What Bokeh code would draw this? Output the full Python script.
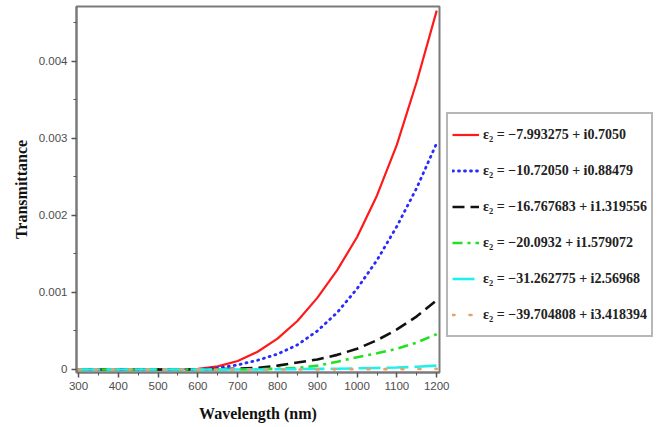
from bokeh.plotting import figure
from bokeh.models import Legend, LegendItem, FixedTicker, CustomJSTickFormatter, Range1d
from bokeh.embed import file_html
from bokeh.resources import INLINE

# ---- data ----
wavelength = [300, 350, 400, 450, 500, 550, 600, 650, 700, 750,
              800, 850, 900, 950, 1000, 1050, 1100, 1150, 1200]

t_eps_7_99 = [0, 0, 0, 0, 0, 0, 0.00001, 0.00004, 0.00011, 0.00023,
              0.00040, 0.00063, 0.00093, 0.00129, 0.00172, 0.00226, 0.00292, 0.00374, 0.00466]
t_eps_10_72 = [0, 0, 0, 0, 0, 0, 0, 0.00002, 0.00006, 0.00012,
               0.00020, 0.00032, 0.00050, 0.00074, 0.00105, 0.00142, 0.00186, 0.00236, 0.00294]
t_eps_16_77 = [0, 0, 0, 0, 0, 0, 0, 0.000005, 0.00001, 0.00002,
               0.00005, 0.00009, 0.00013, 0.00019, 0.00027, 0.00038, 0.00052, 0.00069, 0.00090]
t_eps_20_09 = [0, 0, 0, 0, 0, 0, 0, 0, 0, 0.000003,
               0.00001, 0.00002, 0.00005, 0.00010, 0.00016, 0.00021, 0.00027, 0.00035, 0.00046]
t_eps_31_26 = [0, 0, 0, 0, 0, 0, 0, 0, 0, 0,
               0.000003, 0.000005, 0.000008, 0.00001, 0.000015, 0.00002, 0.000025, 0.000035, 0.00005]
t_eps_39_70 = [0, 0, 0, 0, 0, 0, 0, 0, 0, 0,
               0, 0, 0.000001, 0.000002, 0.000003, 0.000004, 0.000005, 0.000006, 0.000008]

series_labels = [
    "ε₂ = −7.993275 + i0.7050",
    "ε₂ = −10.72050 + i0.88479",
    "ε₂ = −16.767683 + i1.319556",
    "ε₂ = −20.0932 + i1.579072",
    "ε₂ = −31.262775 + i2.56968",
    "ε₂ = −39.704808 + i3.418394",
]

x_ticks = [300, 400, 500, 600, 700, 800, 900, 1000, 1100, 1200]
x_minor = [350, 450, 550, 650, 750, 850, 950, 1050, 1150]
y_ticks = [0, 0.001, 0.002, 0.003, 0.004]
y_minor = [0.0005, 0.0015, 0.0025, 0.0035, 0.0045]

# ---- figure ----
p = figure(frame_width=363, frame_height=366, output_backend="svg", toolbar_location=None,
           x_range=Range1d(295, 1207), y_range=Range1d(-0.000039, 0.004714),
           min_border_left=76, min_border_right=0, min_border_top=6, min_border_bottom=54)

p.xgrid.visible = False
p.ygrid.visible = False
p.outline_line_color = "#7a7a7a"
p.outline_line_width = 2
p.background_fill_color = "white"
p.border_fill_color = "white"

styles = [
    dict(color="#ff1a1a", line_dash="solid", line_width=2.2, cap="butt"),
    dict(color="#2a2aff", line_dash="1 5", line_width=2.8, cap="round"),
    dict(color="#111111", line_dash="12 6", line_width=2.6, cap="butt"),
    dict(color="#22e022", line_dash="10 5 3 5", line_width=2.6, cap="butt"),
    dict(color="#22eeee", line_dash="22 6", line_width=2.6, cap="butt"),
    dict(color="#e0a56a", line_dash="2 15", line_width=2.6, cap="round"),
]
series = [t_eps_7_99, t_eps_10_72, t_eps_16_77, t_eps_20_09, t_eps_31_26, t_eps_39_70]

items = []
for ys, st, lab in zip(series, styles, series_labels):
    r = p.line(wavelength, ys, line_color=st["color"], line_width=st["line_width"],
               line_dash=st["line_dash"], line_cap=st["cap"])
    items.append(LegendItem(label=lab, renderers=[r]))

# ---- axes ----
for ax in (p.xaxis[0], p.yaxis[0]):
    ax.axis_line_color = "#7a7a7a"
    ax.axis_line_width = 2
    ax.major_tick_line_color = "#555555"
    ax.minor_tick_line_color = "#555555"
    ax.major_tick_line_width = 1.5
    ax.minor_tick_line_width = 1
    ax.major_tick_in = 0
    ax.major_tick_out = 5
    ax.minor_tick_in = 0
    ax.minor_tick_out = 3
    ax.major_label_text_font = "Liberation Sans"
    ax.major_label_text_font_size = "11.5px"
    ax.major_label_text_color = "#4d4d4d"
    ax.axis_label_text_font = "Liberation Serif"
    ax.axis_label_text_font_style = "bold"
    ax.axis_label_text_font_size = "16px"
    ax.axis_label_text_color = "#111111"

p.xaxis[0].ticker = FixedTicker(ticks=x_ticks, minor_ticks=x_minor)
p.yaxis[0].ticker = FixedTicker(ticks=y_ticks, minor_ticks=y_minor)
p.yaxis[0].formatter = CustomJSTickFormatter(code="return tick == 0 ? '0' : tick.toFixed(3);")
p.xaxis[0].axis_label = "Wavelength (nm)"
p.yaxis[0].axis_label = "Transmittance"
p.xaxis[0].axis_label_standoff = 12
p.yaxis[0].axis_label_standoff = 6
p.xaxis[0].major_label_standoff = 4
p.yaxis[0].major_label_standoff = 4

# ---- legend ----
legend = Legend(items=items, location=(7, 35), margin=0, padding=4, spacing=3,
                label_height=33, glyph_height=33, glyph_width=27, label_standoff=4,
                label_text_font="Liberation Serif", label_text_font_style="bold",
                label_text_font_size="14px", label_text_color="#222222",
                border_line_color="#707070", border_line_width=2,
                background_fill_color="white", background_fill_alpha=1.0)
p.add_layout(legend, "right")

open("out.html", "w").write(file_html(p, INLINE))
